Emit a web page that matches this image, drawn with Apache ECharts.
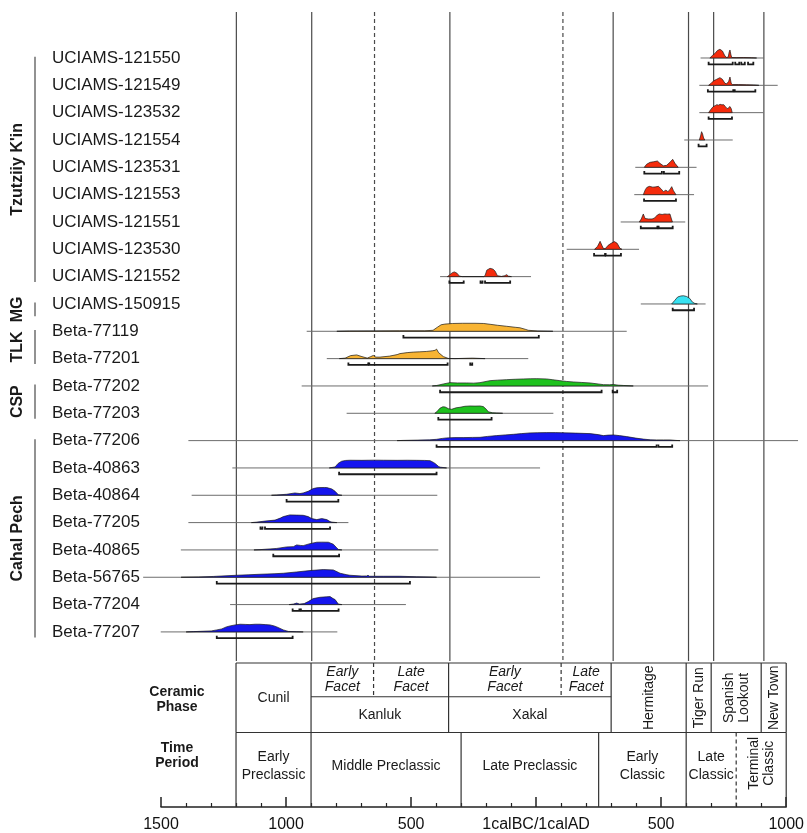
<!DOCTYPE html>
<html><head><meta charset="utf-8">
<script src="https://cdn.jsdelivr.net/npm/echarts/dist/echarts.min.js"></script>
<style>html,body{margin:0;padding:0;background:#fff}#c{width:807px;height:833px}</style>
</head><body><div id="c"></div>
<script>
// ---------------- DATA ----------------
const sampleNames = ['UCIAMS-121550','UCIAMS-121549','UCIAMS-123532','UCIAMS-121554','UCIAMS-123531','UCIAMS-121553','UCIAMS-121551','UCIAMS-123530','UCIAMS-121552','UCIAMS-150915','Beta-77119','Beta-77201','Beta-77202','Beta-77203','Beta-77206','Beta-40863','Beta-40864','Beta-77205','Beta-40865','Beta-56765','Beta-77204','Beta-77207'];
const sampleGroup = [0,0,0,0,0,0,0,0,0,1,2,2,3,3,4,4,4,4,4,4,4,4];
const groupNames = ["Tzutziiy K'in", 'MG', 'TLK', 'CSP', 'Cahal Pech'];
const groupFirstRow = [0, 9, 10, 12, 14];
const groupLastRow = [8, 9, 11, 13, 21];
const groupColors = ['#F52B0C', '#38E2F2', '#F8B433', '#1EC21E', '#1515EE'];

// extent of the thin line of each sample (years, BC negative)
const sampleLines = [[648,900],[643,955],[643,898],[583,776],[388,632],[384,622],[330,587],[115,403],[-389,-27],[410,668],[-920,354],[-840,-38],[-940,678],[-761,62],[-1391,1036],[-1216,9],[-1378,-400],[-1391,-754],[-1421,-396],[-1571,9],[-1225,-525],[-1501,-798]];

// probability densities [year, relative probability]
const dens0 = [[685,0],[695,0.25],[705,0.45],[715,0.75],[725,0.87],[735,0.7],[745,0.2],[752,0.05],[758,0.1],[762,0.6],[765,0.8],[769,0.3],[772,0.05],[790,0.04],[820,0.05],[850,0.03],[871,0]];
const dens1 = [[680,0],[690,0.2],[700,0.45],[712,0.6],[725,0.77],[735,0.6],[745,0.2],[752,0.15],[760,0.4],[765,0.83],[770,0.2],[775,0.08],[800,0.08],[830,0.06],[860,0.04],[880,0]];
const dens2 = [[680,0],[688,0.3],[698,0.6],[706,0.7],[713,0.8],[719,0.75],[726,0.83],[733,0.78],[740,0.8],[747,0.6],[754,0.4],[760,0.5],[765,0.62],[770,0.4],[774,0]];
const dens3 = [[643,0],[648,0.4],[652,0.83],[656,0.6],[660,0.2],[665,0]];
const dens4 = [[424,0],[433,0.3],[447,0.5],[460,0.55],[476,0.63],[486,0.4],[500,0.15],[513,0.2],[526,0.5],[537,0.8],[546,0.4],[559,0]];
const dens5 = [[420,0],[428,0.5],[434,0.72],[444,0.83],[458,0.75],[470,0.78],[480,0.83],[490,0.6],[500,0.3],[510,0.45],[518,0.3],[526,0.5],[533,0.8],[540,0.4],[550,0]];
const dens6 = [[404,0],[412,0.3],[420,0.8],[427,0.35],[440,0.3],[455,0.3],[465,0.4],[476,0.7],[484,0.8],[495,0.75],[505,0.8],[515,0.78],[526,0.8],[532,0.3],[536,0]];
const dens7 = [[226,0],[238,0.3],[248,0.8],[256,0.35],[262,0.05],[270,0.1],[280,0.4],[292,0.6],[305,0.77],[316,0.6],[327,0.1],[335,0]];
const dens8 = [[-360,0],[-352,0.15],[-340,0.4],[-332,0.47],[-322,0.35],[-312,0.05],[-300,0],[-215,0],[-210,0.1],[-203,0.65],[-190,0.83],[-178,0.75],[-170,0.55],[-161,0.1],[-145,0.02],[-131,0.1],[-124,0.2],[-117,0.05],[-105,0]];
const dens9 = [[533,0],[545,0.35],[557,0.7],[570,0.8],[580,0.82],[592,0.75],[605,0.55],[615,0.2],[625,0.05],[635,0]];
const dens10 = [[-800,0],[-750,0.03],[-650,0.04],[-550,0.05],[-450,0.05],[-417,0.1],[-400,0.4],[-385,0.65],[-370,0.72],[-340,0.78],[-300,0.8],[-250,0.8],[-215,0.78],[-190,0.7],[-160,0.6],[-124,0.5],[-90,0.4],[-71,0.35],[-50,0.2],[-38,0.1],[0,0.03],[40,0.01],[60,0]];
const dens11 = [[-790,0],[-767,0.05],[-745,0.3],[-721,0.37],[-700,0.2],[-679,0.05],[-665,0.2],[-655,0.32],[-645,0.15],[-628,0.15],[-590,0.25],[-560,0.4],[-549,0.5],[-520,0.6],[-496,0.65],[-470,0.68],[-442,0.72],[-420,0.78],[-409,0.83],[-403,0.95],[-395,0.6],[-376,0.2],[-356,0.02],[-330,0],[-290,0.03],[-260,0.05],[-230,0.02],[-210,0]];
const dens12 = [[-420,0],[-402,0.05],[-376,0.2],[-350,0.33],[-320,0.3],[-283,0.3],[-255,0.28],[-230,0.33],[-190,0.53],[-160,0.58],[-124,0.63],[-90,0.67],[-58,0.7],[-30,0.72],[-4,0.73],[35,0.7],[60,0.62],[88,0.53],[115,0.45],[141,0.4],[175,0.35],[208,0.3],[240,0.2],[261,0.13],[285,0.12],[301,0.15],[320,0.08],[340,0.05],[380,0]];
const dens13 = [[-410,0],[-402,0.15],[-390,0.5],[-378,0.65],[-369,0.63],[-355,0.45],[-343,0.4],[-325,0.55],[-310,0.6],[-290,0.7],[-270,0.73],[-250,0.72],[-230,0.73],[-217,0.67],[-205,0.4],[-197,0.15],[-180,0.05],[-164,0.03],[-140,0]];
const dens14 = [[-560,0],[-536,0.02],[-480,0.05],[-430,0.08],[-403,0.13],[-380,0.22],[-363,0.27],[-330,0.3],[-297,0.3],[-260,0.32],[-230,0.33],[-200,0.42],[-164,0.5],[-130,0.57],[-97,0.63],[-65,0.7],[-31,0.77],[0,0.79],[35,0.8],[70,0.8],[102,0.78],[150,0.75],[208,0.7],[240,0.6],[261,0.5],[280,0.55],[301,0.57],[325,0.5],[354,0.4],[390,0.25],[420,0.15],[450,0.08],[473,0.07],[500,0.07],[526,0.07],[550,0.02],[566,0]];
const dens15 = [[-830,0],[-807,0.1],[-795,0.45],[-781,0.67],[-765,0.75],[-748,0.77],[-700,0.76],[-650,0.78],[-615,0.77],[-560,0.76],[-520,0.77],[-482,0.76],[-450,0.75],[-429,0.73],[-415,0.55],[-409,0.45],[-395,0.15],[-389,0.08],[-363,0]];
const dens16 = [[-1060,0],[-1039,0.03],[-1000,0.1],[-967,0.23],[-947,0.17],[-934,0.23],[-914,0.4],[-894,0.67],[-880,0.75],[-867,0.77],[-850,0.78],[-840,0.77],[-820,0.63],[-807,0.4],[-794,0.05],[-780,0]];
const dens17 = [[-1140,0],[-1118,0.05],[-1086,0.15],[-1046,0.25],[-1025,0.45],[-1013,0.6],[-987,0.77],[-960,0.75],[-934,0.73],[-914,0.6],[-900,0.4],[-880,0.3],[-860,0.4],[-840,0.3],[-827,0.1],[-820,0.05],[-800,0]];
const dens18 = [[-1130,0],[-1106,0.03],[-1039,0.15],[-1000,0.3],[-973,0.33],[-960,0.5],[-945,0.45],[-934,0.43],[-907,0.63],[-880,0.77],[-860,0.78],[-834,0.77],[-814,0.57],[-800,0.2],[-794,0.05],[-780,0]];
const dens19 = [[-1420,0],[-1350,0.03],[-1292,0.08],[-1278,0.1],[-1199,0.2],[-1150,0.25],[-1106,0.3],[-1050,0.35],[-1013,0.4],[-960,0.53],[-907,0.67],[-854,0.77],[-814,0.73],[-795,0.5],[-787,0.4],[-760,0.25],[-748,0.2],[-700,0.12],[-681,0.13],[-676,0.2],[-670,0.1],[-615,0.1],[-549,0.1],[-482,0.05],[-420,0.02],[-403,0]];
const dens20 = [[-990,0],[-973,0.05],[-960,0.15],[-948,0.05],[-930,0.1],[-914,0.3],[-894,0.6],[-867,0.73],[-840,0.78],[-827,0.8],[-815,0.6],[-807,0.5],[-794,0.05],[-780,0]];
const dens21 = [[-1400,0],[-1371,0.03],[-1300,0.1],[-1278,0.2],[-1258,0.3],[-1240,0.5],[-1225,0.6],[-1205,0.7],[-1185,0.77],[-1165,0.75],[-1146,0.73],[-1125,0.77],[-1106,0.77],[-1085,0.73],[-1066,0.7],[-1050,0.6],[-1039,0.5],[-1013,0.2],[-993,0.05],[-960,0.02],[-934,0]];
const densities = [dens0,dens1,dens2,dens3,dens4,dens5,dens6,dens7,dens8,dens9,dens10,dens11,dens12,dens13,dens14,dens15,dens16,dens17,dens18,dens19,dens20,dens21];

// highest posterior density ranges (brackets under each curve)
const hpdRanges = [
  [[680,776],[786,802],[810,824],[837,858]],
  [[677,778],[784,866]],
  [[680,773]],
  [[640,672]],
  [[424,494],[502,563]],
  [[423,550]],
  [[410,476],[481,537]],
  [[224,268],[270,331]],
  [[-352,-295],[-228,-224],[-210,-110]],
  [[537,622]],
  [[-535,4]],
  [[-754,-675],[-671,-359],[-269,-265]],
  [[-389,254],[298,316]],
  [[-396,-184]],
  [[-403,473],[480,535]],
  [[-791,-403]],
  [[-1000,-794]],
  [[-1104,-1100],[-1086,-827]],
  [[-1053,-791]],
  [[-1278,-509]],
  [[-976,-949],[-943,-793]],
  [[-1278,-976]]
];

// phase boundaries (years)
const ceramicBounds = [-1200, -900, -350, 300, 600, 700, 900];
const facetBounds = [-650, 100];
const facetSpan = [-900, 300];
const periodBounds = [-1200, -900, -300, 250, 600, 1000];
const periodDashed = [800];
const tableRight = 1000;

const facets = [['Early\nFacet',-900,-650],['Late\nFacet',-650,-350],['Early\nFacet',-350,100],['Late\nFacet',100,300]];
const ceramicPhases = [['Cunil',-1200,-900,'full'],['Kanluk',-900,-350,'low'],['Xakal',-350,300,'low'],['Hermitage',300,600,'rot'],['Tiger Run',600,700,'rot'],['Spanish\nLookout',700,900,'rot'],['New Town',900,1000,'rot']];
const timePeriods = [['Early\nPreclassic',-1200,-900,false],['Middle Preclassic',-900,-300,false],['Late Preclassic',-300,250,false],['Early\nClassic',250,600,false],['Late\nClassic',600,800,false],['Terminal\nClassic',800,1000,true]];

const axisTickYears = [-1500,-1000,-500,0,500,1000];
const axisTickLabels = ['1500','1000','500','1calBC/1calAD','500','1000'];

// ---------------- STYLE / LAYOUT ----------------
const FONT = '"Liberation Sans", Arial, Helvetica, sans-serif';
const TXT = '#1a1a1a';
const HSCALE = 10 / 27.33;   // rows per unit of relative probability
const BRK = 6.3 / 27.33;     // bracket offset below baseline (rows)
const ROWMIN = -1.683, ROWMAX = 22.064;
const TAB = {top:0, facet:34, period:70, bottom:145};

const chart = echarts.init(document.getElementById('c'), null, {renderer:'canvas'});

function densityItem(params, api){
  const i = params.dataIndex;
  const color = groupColors[sampleGroup[i]];
  const ch = [];
  const r = sampleLines[i];
  const p0 = api.coord([r[0], i]), p1 = api.coord([r[1], i]);
  ch.push({type:'line', shape:{x1:p0[0],y1:p0[1],x2:p1[0],y2:p1[1]}, style:{stroke:'#6d6d6d', lineWidth:1}});
  const d = densities[i];
  const pts = d.map(p => api.coord([p[0], i - p[1]*HSCALE]));
  pts.unshift(api.coord([d[0][0], i]));
  pts.push(api.coord([d[d.length-1][0], i]));
  ch.push({type:'polygon', shape:{points:pts}, style:{fill:color, stroke:'#1a1a1a', lineWidth:0.7, lineJoin:'round'}});
  hpdRanges[i].forEach(rg => {
    const q0 = api.coord([rg[0], i + BRK]), q1 = api.coord([rg[1], i + BRK]);
    const x1 = q0[0], x2 = Math.max(q1[0], q0[0] + 2), y = q0[1];
    ch.push({type:'polyline', shape:{points:[[x1,y-2.5],[x1,y],[x2,y],[x2,y-2.5]]}, style:{stroke:'#1a1a1a', lineWidth:1.8, fill:null}});
  });
  const lp = api.coord([-1500, i]);
  ch.push({type:'text', x:52, y:lp[1], style:{text:sampleNames[i], font:'17px '+FONT, fill:TXT, align:'left', verticalAlign:'middle'}});
  return {type:'group', children:ch};
}

function groupItem(params, api){
  const g = params.dataIndex;
  const a = api.coord([-1500, groupFirstRow[g] - 0.05]);
  const b = api.coord([-1500, groupLastRow[g] + (groupFirstRow[g]===groupLastRow[g] ? 0.45 : 0.2)]);
  const mid = (a[1] + b[1]) / 2;
  return {type:'group', children:[
    {type:'line', shape:{x1:35,y1:a[1],x2:35,y2:b[1]}, style:{stroke:'#777', lineWidth:1.6}},
    {type:'text', x:18, y:mid, rotation:Math.PI/2, style:{text:groupNames[g], font:'bold 16px '+FONT, fill:TXT, align:'center', verticalAlign:'middle'}}
  ]};
}

function gridLinesItem(params, api){
  const ch = [];
  ceramicBounds.forEach(v => {
    const a = api.coord([v, ROWMIN]), b = api.coord([v, ROWMAX]);
    ch.push({type:'line', shape:{x1:a[0],y1:a[1],x2:b[0],y2:b[1]}, style:{stroke:'#4a4a4a', lineWidth:1.2}});
  });
  facetBounds.forEach(v => {
    const a = api.coord([v, ROWMIN]), b = api.coord([v, ROWMAX]);
    ch.push({type:'line', shape:{x1:a[0],y1:a[1],x2:b[0],y2:b[1]}, style:{stroke:'#4a4a4a', lineWidth:1.2, lineDash:[4,3]}});
  });
  return {type:'group', children:ch};
}

function tableItem(params, api){
  const ch = [];
  const L = (x1, y1, x2, y2, dash) => {
    const a = api.coord([x1, y1]), b = api.coord([x2, y2]);
    ch.push({type:'line', shape:{x1:a[0],y1:a[1],x2:b[0],y2:b[1]}, style:{stroke:'#333', lineWidth:1.2, lineDash:dash?[4,3]:null}});
  };
  const T = (txt, x, y, opt) => {
    const p = api.coord([x, y]);
    ch.push({type:'text', x:p[0], y:p[1], rotation:opt.rot?Math.PI/2:0,
      style:{text:txt, font:(opt.italic?'italic ':'')+'14px '+FONT, fill:TXT, align:'center', verticalAlign:'middle', lineHeight:opt.lh||15}});
  };
  L(ceramicBounds[0], TAB.top, tableRight, TAB.top);
  L(facetSpan[0], TAB.facet, facetSpan[1], TAB.facet);
  L(ceramicBounds[0], TAB.period, tableRight, TAB.period);
  ceramicBounds.concat([tableRight]).forEach(v => L(v, TAB.top, v, TAB.period));
  facetBounds.forEach(v => L(v, TAB.top, v, TAB.facet, true));
  periodBounds.forEach(v => L(v, TAB.period, v, TAB.bottom));
  periodDashed.forEach(v => L(v, TAB.period, v, TAB.bottom, true));
  facets.forEach(f => T(f[0], (f[1]+f[2])/2, 17, {italic:true, lh:15}));
  ceramicPhases.forEach(c => {
    const x = (c[1]+c[2])/2;
    if (c[3]==='full') T(c[0], x, 35, {});
    else if (c[3]==='low') T(c[0], x, 53, {});
    else T(c[0], x, 35, {rot:true, lh:15});
  });
  timePeriods.forEach(t => {
    const x = (t[1]+t[2])/2;
    if (t[3]) T(t[0], x, 101, {rot:true, lh:15});
    else T(t[0], x, 104, {lh:18});
  });
  return {type:'group', children:ch};
}

const option = {
  backgroundColor:'#fff',
  animation:false,
  grid:[
    {left:161, right:18, top:12, height:649},
    {left:161, right:18, top:663, height:145}
  ],
  xAxis:[
    {type:'value', gridIndex:0, min:-1500, max:1000, show:false},
    {type:'value', gridIndex:1, min:-1500, max:1000, interval:500, position:'bottom',
      axisLine:{show:true, onZero:false, lineStyle:{color:'#222', width:1.5}},
      axisTick:{show:true, inside:true, length:10, lineStyle:{color:'#222', width:1.5}},
      minorTick:{show:true, splitNumber:5, length:4, lineStyle:{color:'#222', width:1.2}},
      splitLine:{show:false}, minorSplitLine:{show:false},
      axisLabel:{interval:0, showMinLabel:true, showMaxLabel:true, margin:10, fontSize:16, color:'#111', fontFamily:FONT,
        formatter: v => { const k = axisTickYears.indexOf(v); return k >= 0 ? axisTickLabels[k] : ''; }}
    }
  ],
  yAxis:[
    {type:'value', gridIndex:0, min:ROWMIN, max:ROWMAX, inverse:true, show:false},
    {type:'value', gridIndex:1, min:0, max:145, inverse:true, show:false}
  ],
  graphic:[
    {type:'text', x:177, y:700, style:{text:'Ceramic\nPhase', font:'bold 14px '+FONT, fill:TXT, align:'center', verticalAlign:'middle', lineHeight:15}},
    {type:'text', x:177, y:756, style:{text:'Time\nPeriod', font:'bold 14px '+FONT, fill:TXT, align:'center', verticalAlign:'middle', lineHeight:15}}
  ],
  series:[
    {type:'custom', xAxisIndex:0, yAxisIndex:0, clip:false, renderItem:gridLinesItem, data:[[0,0]], silent:true, z:1},
    {type:'custom', xAxisIndex:0, yAxisIndex:0, clip:false, renderItem:densityItem, data:sampleNames.map((n,i)=>[sampleLines[i][0], i]), silent:true, z:2},
    {type:'custom', xAxisIndex:0, yAxisIndex:0, clip:false, renderItem:groupItem, data:groupNames.map((n,g)=>[-1500, groupFirstRow[g]]), silent:true, z:2},
    {type:'custom', xAxisIndex:1, yAxisIndex:1, clip:false, renderItem:tableItem, data:[[0,0]], silent:true, z:1}
  ]
};
chart.setOption(option);
</script>
</body></html>
